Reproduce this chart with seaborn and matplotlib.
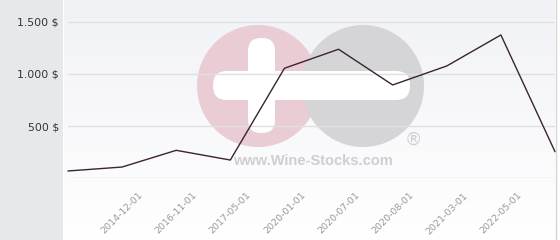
import numpy as np
import pandas as pd
import matplotlib
matplotlib.use("Agg")
import matplotlib.pyplot as plt
import seaborn as sns
from matplotlib.patches import Circle, FancyBboxPatch, Rectangle

# ---- data ----
tick_labels = ["", "2014-12-01", "2016-11-01", "2017-05-01", "2020-01-01",
               "2020-07-01", "2020-08-01", "2021-03-01", "2022-05-01", ""]
prices = [70, 108, 268, 175, 1054, 1236, 894, 1076, 1373, 255]
y_ticks = [0, 500, 1000, 1500]
y_tick_labels = ["", "500 $", "1.000 $", "1.500 $"]

df = pd.DataFrame({"idx": np.arange(len(prices)), "price": prices})

sns.set_style("white")
plt.rcParams['font.family'] = ['DejaVu Sans']

W, H = 560, 240
fig = plt.figure(figsize=(W / 100, H / 100), dpi=100)
fig.patch.set_facecolor("white")

# left grey panel
fig.patches.append(Rectangle((0, 0), 63 / W, 1, transform=fig.transFigure,
                             facecolor="#e6e9ec", edgecolor="none", zorder=0))

# background gradient for plot region
ax_bg = fig.add_axes([64 / W, 0, (555 - 64) / W, 1], zorder=0)
grad = np.linspace(0, 1, 256)[:, None]
c_top = np.array([0xf1, 0xf2, 0xf6]) / 255
c_bot = np.array([1.0, 1.0, 1.0])
img = c_top[None, None, :] * (1 - grad[:, :, None]) + c_bot[None, None, :] * grad[:, :, None]
ax_bg.imshow(img, aspect="auto", extent=[0, 1, 0, 1], origin="upper")
ax_bg.set_axis_off()

# right border
fig.lines.append(plt.Line2D([555.5 / W, 555.5 / W], [0, 1], transform=fig.transFigure,
                            color="#d6d6d8", lw=1.0, zorder=1))

# watermark overlay in pixel coordinates
ax_wm = fig.add_axes([0, 0, 1, 1], zorder=1)
ax_wm.set_xlim(0, W)
ax_wm.set_ylim(H, 0)
ax_wm.set_axis_off()
ax_wm.patch.set_alpha(0)
ax_wm.add_patch(Circle((258, 86), 61, facecolor="#e9ccd4", edgecolor="none"))
ax_wm.add_patch(Circle((363, 86), 61, facecolor="#d5d5d8", edgecolor="none"))
ax_wm.add_patch(FancyBboxPatch((248 + 13, 38 + 13), 1, 95 - 26,
                               boxstyle="round,pad=13", facecolor="white", edgecolor="none"))
ax_wm.add_patch(FancyBboxPatch((213 + 14, 71 + 14), 410 - 213 - 28, 1,
                               boxstyle="round,pad=14", facecolor="white", edgecolor="none"))
ax_wm.text(313, 161, "www.Wine-Stocks.com", family="Liberation Sans", weight="bold",
           fontsize=10.5, color="#cfcfd2", ha="center", va="center")
ax_wm.text(413, 140, "®", family="DejaVu Sans", fontsize=12.5, color="#cfcfd2",
           ha="center", va="center")

# main plot axes
ax = fig.add_axes([68 / W, (H - 178.3) / H, (555 - 68) / W, 178.3 / H], zorder=2)
ax.patch.set_alpha(0)
sns.lineplot(data=df, x="idx", y="price", ax=ax, color="#3b2330", lw=1.0,
             clip_on=False, zorder=3)
ax.set_xlim(0, len(prices) - 1)
ax.set_ylim(0, 1500 * 178.3 / 156.6)
ax.set_yticks(y_ticks)
ax.set_yticklabels(y_tick_labels)
ax.set_xticks(df["idx"])
ax.set_xticklabels(tick_labels, rotation=45, ha="center", va="top")
ax.tick_params(axis="y", length=0, pad=6.5, labelsize=7.8, labelcolor="#333333")
ax.tick_params(axis="x", length=0, pad=9, labelsize=6.8, labelcolor="#999999")
ax.grid(axis="y", color="#e0e0e2", lw=1.0)
ax.grid(axis="x", visible=False)
ax.set_xlabel("")
ax.set_ylabel("")
for s in ax.spines.values():
    s.set_visible(False)

fig.savefig("out.png", dpi=100)
